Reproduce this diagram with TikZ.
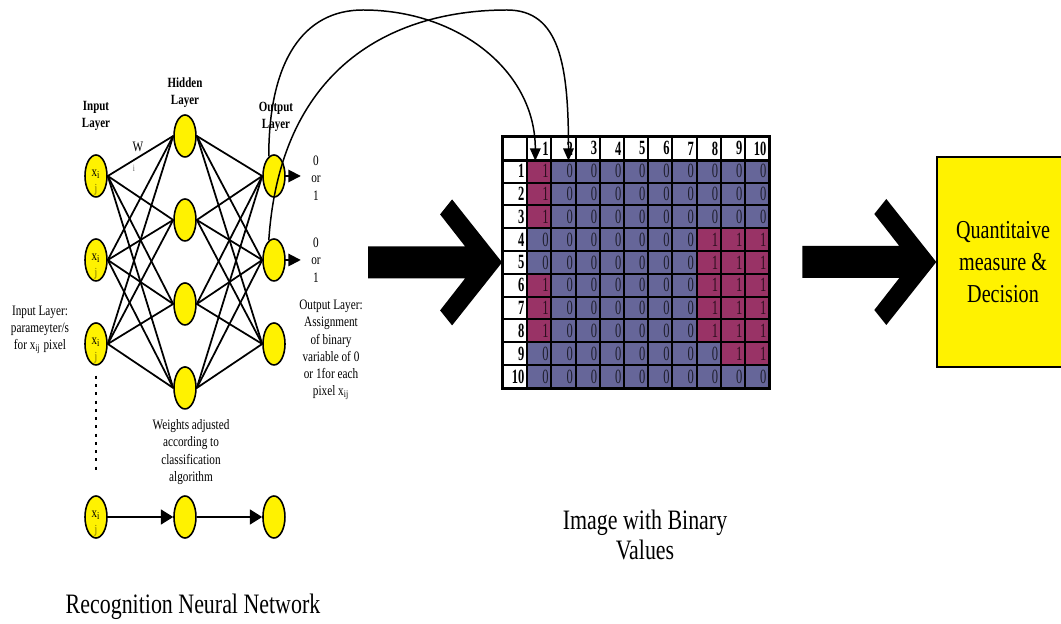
\documentclass[tikz,border=0pt]{standalone}
\usepackage{fontspec}
\setmainfont[FakeStretch=0.78]{Liberation Serif}
\newfontfamily\tabfont[FakeStretch=0.62]{Liberation Serif}
\usepackage{xcolor}
\usetikzlibrary{shapes.geometric,arrows.meta,positioning}

\definecolor{zerocol}{HTML}{666699}
\definecolor{onecol}{HTML}{993366}
\definecolor{jcol}{HTML}{7A7000}

\begin{document}
\begin{tikzpicture}[x=0.02cm,y=-0.02cm,node distance=1.68cm,
  neuron/.style={ellipse,draw,line width=0.9pt,fill=yellow,minimum width=0.44cm,minimum height=0.84cm,inner sep=0pt,font=\fontsize{8}{8}\selectfont},
  link/.style={line width=1pt},
  note/.style={align=center,font=\fontsize{8.2}{9.8}\selectfont},
  lay/.style={align=center,font=\bfseries\fontsize{8}{9.8}\selectfont},
  big/.style={align=center,font=\fontsize{16}{17}\selectfont},
  jmark/.style={anchor=south,inner sep=1.5pt,text=jcol,font=\fontsize{7}{7}\selectfont},
  outarrow/.style={line width=1pt,-{Triangle[length=7pt,width=7pt]}},
  flow/.style={line width=1pt,-{Triangle[length=7pt,width=8.5pt]}},
  feed/.style={line width=0.85pt,-{Triangle[length=7pt,width=6pt]}},
  bigarrow/.pic={\fill (0,0) -- (-50,-63) -- (-62,-48) -- (-37,-16) -- (-134,-16) -- (-134,16) -- (-37,16) -- (-62,48) -- (-50,63) -- cycle;}]
  \tikzstyle{cell}=[draw,line width=1.1pt,minimum height=0.456cm,text width=10.7pt,inner xsep=1.5pt,inner ysep=0pt,align=right,font=\tabfont\fontsize{11.5}{12}\selectfont]
  \useasboundingbox (0,0) rectangle (1061,624);
  \clip (0,0) rectangle (1061,624);

  \node[neuron] (i1) at (96,176) {\raisebox{3pt}{x\textsubscript{i}}};
  \node[neuron] (i2) [below of=i1] {\raisebox{3pt}{x\textsubscript{i}}};
  \node[neuron] (i3) [below of=i2] {\raisebox{3pt}{x\textsubscript{i}}};
  \node[neuron] (h1) at (185,136) {};
  \node[neuron] (h2) [below of=h1] {};
  \node[neuron] (h3) [below of=h2] {};
  \node[neuron] (h4) [below of=h3] {};
  \node[neuron] (o1) at (274,176) {};
  \node[neuron] (o2) [below of=o1] {};
  \node[neuron] (o3) [below of=o2] {};
  \node[neuron] (b1) at (96,517) {\raisebox{3pt}{x\textsubscript{i}}};
  \node[neuron] (b2) [node distance=1.78cm,right of=b1] {};
  \node[neuron] (b3) [node distance=1.78cm,right of=b2] {};
  \foreach \n in {i1,i2,i3,b1}
    \node[jmark] (j\n) at (\n.south) {j};

  \foreach \a in {1,2,3}
    \foreach \b in {1,...,4}
      \draw[link] (i\a.east) -- (h\b.west);
  \foreach \a in {1,...,4}
    \foreach \b in {1,2,3}
      \draw[link] (h\a.east) -- (o\b.west);

  \coordinate (y1) at ([xshift=0.3cm]o1.east);
  \coordinate (y2) at ([xshift=0.3cm]o2.east);
  \draw[outarrow] (o1.east) -- (y1);
  \draw[outarrow] (o2.east) -- (y2);
  \draw[flow] (b1) -- (b2);
  \draw[flow] (b2) -- (b3);
  \coordinate (dotend) at (96,472);
  \draw[line width=1.1pt,dash pattern=on 1.7pt off 3pt] ([yshift=-0.2cm]i3.south) -- (dotend);

  \node[lay] (inlab) at (96,116) {Input\\Layer};
  \node[lay] (hidlab) at (185,93) {Hidden\\Layer};
  \node[lay] (outlab) at (276,117) {Output\\Layer};
  \node[note] (wlab) at (138,147) {W};
  \node[text=black!60,font=\fontsize{5.5}{6}\selectfont] (wsub) at (134,168) {i};
  \node[note] (v1) at (316,178) {0\\or\\1};
  \node[note] (v2) at (316,260) {0\\or\\1};
  \node[note] (inpar) at (40,330) {Input Layer:\\parameyter/s\\for x\textsubscript{ij} pixel};
  \node[note] (outpar) at (331,350) {Output Layer:\\Assignment\\of binary\\variable of 0\\or 1for each\\pixel x\textsubscript{ij}};
  \node[note] (wnote) at (191,452) {Weights adjusted\\according to\\classification\\algorithm};
  \node[big] (rnn) at (193,607) {Recognition Neural Network};

  \node[cell,fill=white] (t-0-0) at (515.1,148.4) {};
  \foreach \c in {1,...,10}
    \node[cell,fill=white,font=\tabfont\bfseries\fontsize{11.5}{12}\selectfont] (t-0-\c) at ({515.1+\c*24.2},148.4) {\c};
  \foreach \row [count=\r] in {{1,0,0,0,0,0,0,0,0,0},{1,0,0,0,0,0,0,0,0,0},{1,0,0,0,0,0,0,0,0,0},
      {0,0,0,0,0,0,0,1,1,1},{0,0,0,0,0,0,0,1,1,1},{1,0,0,0,0,0,0,1,1,1},{1,0,0,0,0,0,0,1,1,1},
      {1,0,0,0,0,0,0,1,1,1},{0,0,0,0,0,0,0,0,1,1},{0,0,0,0,0,0,0,0,0,0}} {
    \node[cell,fill=white,font=\tabfont\bfseries\fontsize{11.5}{12}\selectfont] (t-\r-0) at (515.1,{148.4+\r*22.8}) {\r};
    \foreach \v [count=\c] in \row {
      \ifnum\v=1 \def\cc{onecol}\else\def\cc{zerocol}\fi
      \node[cell,fill=\cc,text=\cc!30!black] (t-\r-\c) at ({515.1+\c*24.2},{148.4+\r*22.8}) {\v};
    }
  }
  \draw[line width=1.8pt] (t-0-0.south west) -- (t-0-10.south east);
  \draw[line width=1.3pt] (t-0-0.north west) rectangle (t-10-10.south east);
  \node[big] (imglab) at (645,535) {Image with Binary\\Values};

  \node[draw,fill=yellow,line width=0.8pt,minimum width=2.64cm,minimum height=4.2cm,align=center,font=\fontsize{14.7}{18.4}\selectfont] (dec) at (1003,262) {Quantitaive\\measure \&\\Decision};
  \pic at (t-5-0.west) {bigarrow};
  \pic at (dec.west) {bigarrow};

  \coordinate (topA) at (363,10);
  \coordinate (topB) at (507,10);
  \draw[feed] (o1.105) .. controls +(0,-95) and +(-60,0) .. (topA) .. controls +(95,0) and +(0,-90) .. ([xshift=-0.08cm]t-0-1.south);
  \draw[feed] (o2.105) .. controls +(12,-180) and +(-107,0) .. (topB) .. controls +(53,0) and +(0,-95) .. ([xshift=0.1cm]t-0-2.south);
\end{tikzpicture}
\end{document}
